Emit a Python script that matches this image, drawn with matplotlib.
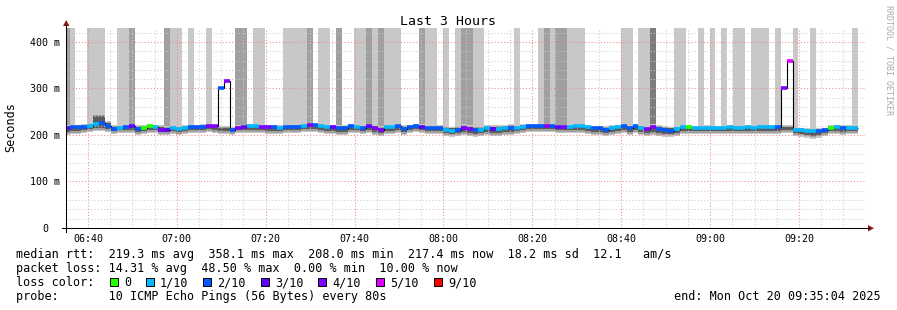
import matplotlib.pyplot as plt
import numpy as np
from matplotlib.patches import Rectangle, Polygon
from matplotlib.lines import Line2D

plt.rcParams['font.family'] = ['DejaVu Sans Mono']

W, H = 897, 310

# one RRD step every 80 s, x axis in minutes after 06:00
t_start = 34.53
step = 80 / 60
view = (35.067, 215.067)

# median rtt per step (ms)
median_ms = [
    215, 217, 217, 217, 219, 224, 226, 219, 213, 215,
    217, 219, 213, 215, 219, 217, 211, 211, 215, 213,
    215, 217, 217, 217, 219, 219, 300, 316, 211, 215,
    217, 219, 219, 217, 217, 217, 215, 217, 217, 217,
    219, 222, 222, 219, 217, 217, 215, 215, 219, 217,
    215, 219, 215, 211, 217, 217, 219, 213, 217, 219,
    217, 215, 215, 215, 211, 208, 211, 215, 213, 211,
    211, 215, 213, 213, 215, 215, 215, 217, 219, 219,
    219, 219, 219, 217, 217, 217, 219, 219, 217, 215,
    215, 211, 215, 217, 219, 215, 219, 215, 213, 217,
    213, 211, 209, 213, 217, 217, 215, 215, 215, 215,
    215, 215, 217, 215, 215, 217, 215, 217, 217, 217,
    217, 300, 358, 211, 211, 209, 208, 209, 211, 215,
    217, 215, 215, 215,
]

# lost pings out of 10 per step
loss_count = [
    3, 2, 2, 2, 1, 1, 2, 2, 2, 1,
    2, 3, 2, 0, 0, 1, 4, 3, 1, 1,
    1, 2, 2, 2, 4, 4, 2, 4, 2, 4,
    3, 1, 1, 4, 4, 2, 1, 2, 2, 2,
    1, 4, 2, 1, 1, 3, 2, 2, 2, 1,
    2, 3, 4, 4, 1, 1, 2, 2, 2, 2,
    3, 2, 2, 2, 1, 1, 2, 4, 4, 2,
    1, 1, 3, 1, 1, 2, 1, 1, 2, 2,
    2, 4, 2, 3, 4, 1, 1, 1, 1, 2,
    2, 2, 1, 1, 2, 2, 2, 1, 4, 4,
    2, 2, 2, 1, 1, 0, 1, 1, 1, 1,
    1, 1, 1, 1, 1, 1, 1, 1, 1, 1,
    2, 4, 5, 1, 1, 1, 1, 2, 2, 0,
    1, 2, 1, 1,
]

# smoke band (ms) of the pings that stay on scale
smoke_lo = [
    200, 202, 202, 204, 206, 208, 208, 206, 202, 204,
    204, 204, 200, 202, 204, 204, 200, 200, 202, 200,
    202, 204, 204, 204, 206, 204, 202, 202, 200, 204,
    204, 204, 204, 204, 202, 202, 202, 204, 204, 204,
    206, 206, 206, 204, 202, 202, 200, 200, 204, 204,
    202, 204, 200, 198, 202, 202, 204, 200, 204, 206,
    204, 202, 202, 202, 198, 196, 198, 200, 198, 196,
    198, 200, 198, 198, 200, 200, 202, 204, 206, 206,
    206, 206, 206, 204, 204, 204, 204, 204, 202, 200,
    200, 198, 200, 202, 204, 200, 204, 200, 198, 200,
    198, 196, 196, 198, 202, 202, 202, 202, 202, 202,
    202, 202, 202, 202, 202, 202, 202, 202, 202, 202,
    202, 204, 204, 198, 196, 194, 192, 194, 198, 202,
    202, 200, 202, 202,
]
smoke_hi = [
    222, 222, 222, 224, 226, 245, 245, 229, 222, 222,
    222, 224, 222, 222, 224, 222, 222, 220, 222, 220,
    222, 222, 222, 224, 224, 222, 219, 219, 218, 222,
    222, 224, 224, 222, 222, 222, 222, 222, 224, 224,
    224, 226, 226, 224, 222, 222, 222, 222, 224, 222,
    222, 224, 222, 220, 222, 222, 224, 222, 222, 224,
    224, 222, 222, 222, 220, 218, 220, 224, 222, 220,
    220, 222, 222, 222, 222, 224, 222, 224, 224, 224,
    224, 224, 224, 222, 222, 222, 224, 224, 222, 220,
    220, 220, 222, 222, 224, 222, 224, 222, 220, 224,
    222, 220, 218, 220, 222, 222, 220, 220, 222, 222,
    220, 220, 222, 222, 222, 222, 220, 222, 222, 222,
    222, 221, 221, 216, 216, 215, 213, 215, 216, 222,
    222, 222, 222, 222,
]

# pings above the top of the scale (0-3)
off_scale = [
    2, 1, 0, 0, 1, 1, 1, 0, 0, 1,
    1, 2, 0, 0, 0, 0, 0, 2, 1, 1,
    0, 1, 0, 0, 1, 0, 0, 0, 0, 2,
    2, 0, 1, 1, 0, 0, 0, 1, 1, 1,
    1, 2, 0, 1, 1, 0, 2, 0, 0, 1,
    1, 2, 1, 2, 1, 1, 1, 0, 0, 0,
    2, 1, 1, 0, 1, 0, 1, 2, 2, 1,
    1, 0, 0, 0, 0, 0, 1, 0, 0, 0,
    1, 2, 1, 2, 2, 1, 1, 1, 0, 0,
    0, 0, 0, 0, 1, 1, 0, 1, 1, 3,
    0, 0, 0, 1, 1, 0, 0, 1, 0, 1,
    0, 1, 0, 1, 1, 0, 1, 1, 1, 0,
    1, 0, 0, 1, 0, 0, 1, 0, 0, 0,
    0, 0, 0, 1,
]

loss_levels = [0, 1, 2, 3, 4, 5, 9]
loss_labels = ['0', '1/10', '2/10', '3/10', '4/10', '5/10', '9/10']
loss_colors = ['#26ff00', '#00b8ff', '#0059ff', '#5e00ff', '#7e00ff', '#dd00ff', '#ff0000']
smoke_shades = ['#c8c8c8', '#a0a0a0', '#7c7c7c', '#5c5c5c']

x_major = list(range(40, 201, 20))
y_major = [0, 100, 200, 300, 400]
y_labels = ['0', '100 m', '200 m', '300 m', '400 m']

legend_rows = [
    'median rtt:  219.3 ms avg  358.1 ms max  208.0 ms min  217.4 ms now  18.2 ms sd  12.1   am/s',
    'packet loss: 14.31 % avg  48.50 % max  0.00 % min  10.00 % now',
    'loss color:  ',
    'probe:       10 ICMP Echo Pings (56 Bytes) every 80s',
]
end_text = 'end: Mon Oct 20 09:35:04 2025'


def px(x, y):
    return x / W, 1 - y / H


fig = plt.figure(figsize=(W / 100, H / 100), dpi=100)
ax = fig.add_axes([66 / W, 1 - 228 / H, 800 / W, 200 / H])
ax.set_xlim(*view)
ax.set_ylim(0, 430)

t = t_start + step * np.arange(len(median_ms))
lo = np.array(smoke_lo, float)
hi = np.array(smoke_hi, float)
off = np.array(off_scale)

# smoke: outer, middle, inner ping pairs
ax.bar(t, hi - lo, width=step, bottom=lo, align='edge', color=smoke_shades[0], lw=0)
ax.bar(t, hi - lo - 5, width=step, bottom=lo + 3, align='edge', color=smoke_shades[1], lw=0)
ax.bar(t, hi - lo - 10, width=step, bottom=lo + 6, align='edge', color=smoke_shades[3], lw=0)

# pings that went off the top of the graph
for k in (1, 2, 3):
    sel = off == k
    ax.bar(t[sel], 600 - hi[sel], width=step, bottom=hi[sel], align='edge',
           color=smoke_shades[k - 1], lw=0)

# median line coloured by loss
edges = np.append(t, t[-1] + step)
ax.stairs(median_ms, edges, baseline=None, color='black', lw=0.8, zorder=3)
cmap = dict(zip(loss_levels, loss_colors))
ax.hlines(median_ms, t, t + step, colors=[cmap[c] for c in loss_count], lw=2.6, zorder=4)

# grid
ax.set_xticks(x_major, [f'{6 + m // 60:02d}:{m % 60:02d}' for m in x_major])
ax.set_xticks(np.arange(40, 216, 5), minor=True)
ax.set_yticks(y_major, y_labels)
ax.set_yticks(np.arange(0, 430, 20), minor=True)
ax.grid(which='major', color='#f08a8a', ls=(0, (1, 2)), lw=0.75)
ax.grid(which='minor', color='#cccccc', ls=(0, (1, 2)), lw=0.75)
ax.set_axisbelow(False)
ax.tick_params(which='both', length=0, labelsize=7.2)
ax.tick_params(axis='x', pad=4.5)
ax.tick_params(axis='y', pad=15)
for lab in ax.get_yticklabels():
    lab.set_ha('center')
for s in ax.spines.values():
    s.set_visible(False)

# axes with arrows
fig.add_artist(Line2D([66 / W, 66 / W], [1 - 232 / H, 1 - 25 / H], color='black', lw=0.75))
fig.add_artist(Line2D([62 / W, 869 / W], [1 - 228 / H, 1 - 228 / H], color='black', lw=0.75))
fig.add_artist(Polygon([px(63, 26), px(69.5, 26), px(66.2, 20)], closed=True,
                       color='#8b1a1a', lw=0, transform=fig.transFigure))
fig.add_artist(Polygon([px(868, 225), px(868, 231.5), px(874, 228.2)], closed=True,
                       color='#8b1a1a', lw=0, transform=fig.transFigure))

# texts
fig.text(*px(448, 25), 'Last 3 Hours', ha='center', va='baseline', fontsize=9.5)
fig.text(*px(10.5, 127.5), 'Seconds', rotation=90, ha='center', va='center', fontsize=8.5)
fig.text(*px(888.5, 5), 'RRDTOOL / TOBI OETIKER', rotation=270, ha='center', va='top',
         fontsize=6, color='#aaaaaa')

fs = 8.5
for i, row in enumerate(legend_rows):
    fig.text(*px(16, 258 + 14 * i), row, ha='left', va='baseline', fontsize=fs)

# loss colour legend
cell = 7.2
col = 13
for lvl, lab, c in zip(loss_levels, loss_labels, loss_colors):
    x0 = 16 + col * cell
    fig.add_artist(Rectangle(px(x0, 286), 8 / W, 8 / H, transform=fig.transFigure,
                             facecolor=c, edgecolor='black', lw=0.7))
    fig.text(*px(16 + (col + 2) * cell, 286), lab, ha='left', va='baseline', fontsize=fs)
    col += len(lab) + 4

fig.text(*px(881, 300), end_text, ha='right', va='baseline', fontsize=fs)

fig.savefig('out.png', dpi=100)
